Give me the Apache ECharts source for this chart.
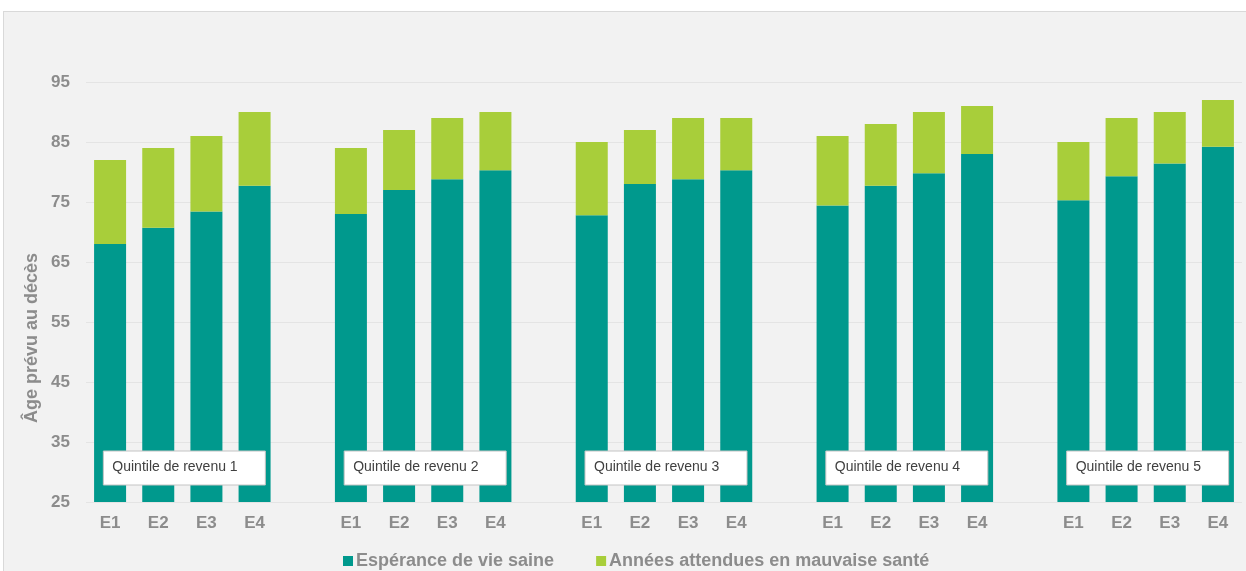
<!DOCTYPE html>
<html>
<head>
<meta charset="utf-8">
<script src="https://cdn.jsdelivr.net/npm/echarts@6/dist/echarts.min.js"></script>
<style>
  html, body { margin: 0; padding: 0; background: #fff; }
  #panel {
    position: absolute; left: 3px; top: 11px; width: 1250px; height: 570px;
    background: #f2f2f2; border: 1px solid #d9d9d9; box-sizing: border-box;
  }
  #chart { position: absolute; left: 0; top: 0; width: 1246px; height: 571px; }
</style>
</head>
<body>
<div id="panel"></div>
<div id="chart"></div>
<script>
// axis starts at 25, so bars are drawn on an offset scale
const BASE = 25;
const groups = ["Quintile de revenu 1", "Quintile de revenu 2", "Quintile de revenu 3", "Quintile de revenu 4", "Quintile de revenu 5"];
const levels = ["E1", "E2", "E3", "E4"];
const yTicks = [25, 35, 45, 55, 65, 75, 85, 95];

// espérance de vie saine (top of teal bar)
const healthy = [
  68, 70.7, 73.4, 77.7,
  73, 77, 78.8, 80.3,
  72.8, 78, 78.8, 80.3,
  74.4, 77.7, 79.8, 83,
  75.3, 79.3, 81.4, 84.2
];
// âge prévu au décès (top of stacked bar)
const total = [
  82, 84, 86, 90,
  84, 87, 89, 90,
  85, 87, 89, 89,
  86, 88, 90, 91,
  85, 89, 90, 92
];

const TEAL = "#00998d";
const GREEN = "#a8ce3a";
const GREY = "#8c8c8c";

// category slots: 4 bars per quintile, empty slot between quintiles
const cats = [];
const healthyData = [];
const illData = [];
groups.forEach((g, gi) => {
  levels.forEach((lv, li) => {
    const i = gi * levels.length + li;
    cats.push(lv);
    healthyData.push(healthy[i] - BASE);
    illData.push(+(total[i] - healthy[i]).toFixed(2));
  });
  if (gi < groups.length - 1) {
    cats.push("");
    healthyData.push("-");
    illData.push("-");
  }
});

const chart = echarts.init(document.getElementById("chart"));

chart.setOption({
  animation: false,
  textStyle: { fontFamily: "Liberation Sans, Arial, sans-serif" },
  grid: { left: 86, right: 4, top: 82, bottom: 69 },
  legend: {
    left: 338,
    top: 547,
    icon: "rect",
    itemWidth: 10,
    itemHeight: 10,
    itemGap: 42,
    textStyle: { color: GREY, fontSize: 18, fontWeight: "bold", padding: [0, 0, 0, -2] },
    data: ["Espérance de vie saine", "Années attendues en mauvaise santé"]
  },
  xAxis: {
    type: "category",
    data: cats,
    axisLine: { show: false },
    axisTick: { show: false },
    axisLabel: { color: GREY, fontSize: 17, fontWeight: "bold", margin: 13, interval: 0 }
  },
  yAxis: {
    type: "value",
    min: 0,
    max: yTicks[yTicks.length - 1] - BASE,
    interval: 10,
    axisLine: { show: false },
    axisTick: { show: false },
    axisLabel: { color: GREY, fontSize: 17, fontWeight: "bold", margin: 16, formatter: v => String(v + BASE) },
    splitLine: { lineStyle: { color: "#e4e4e4", width: 1 } }
  },
  series: [
    {
      name: "Espérance de vie saine",
      type: "bar",
      stack: "age",
      barWidth: 32,
      itemStyle: { color: TEAL },
      data: healthyData
    },
    {
      name: "Années attendues en mauvaise santé",
      type: "bar",
      stack: "age",
      barWidth: 32,
      itemStyle: { color: GREEN },
      data: illData
    }
  ]
});

// quintile boxes and y-axis title
const boxTop = chart.convertToPixel({ yAxisIndex: 0 }, 33.5 - BASE);
const graphics = groups.map((g, gi) => {
  const a = chart.convertToPixel({ xAxisIndex: 0 }, gi * 5 + 1);
  const b = chart.convertToPixel({ xAxisIndex: 0 }, gi * 5 + 2);
  const cx = (a + b) / 2;
  return {
    type: "group",
    x: cx - 79,
    y: boxTop,
    z: 100,
    children: [
      { type: "rect", z: 100, shape: { x: 0, y: 0, width: 162, height: 34 },
        style: { fill: "#fff", stroke: "#c4c4c4", lineWidth: 1 } },
      { type: "text", z: 101, x: 9, y: 16,
        style: { text: g, fill: "#404040", font: "14px Liberation Sans, Arial, sans-serif", verticalAlign: "middle" } }
    ]
  };
});
graphics.push({
  type: "text",
  x: 32,
  y: 338,
  z: 100,
  rotation: Math.PI / 2,
  style: {
    text: "Âge prévu au décès",
    fill: GREY,
    font: "bold 18px Liberation Sans, Arial, sans-serif",
    align: "center",
    verticalAlign: "middle"
  }
});
chart.setOption({ graphic: graphics });
</script>
</body>
</html>
